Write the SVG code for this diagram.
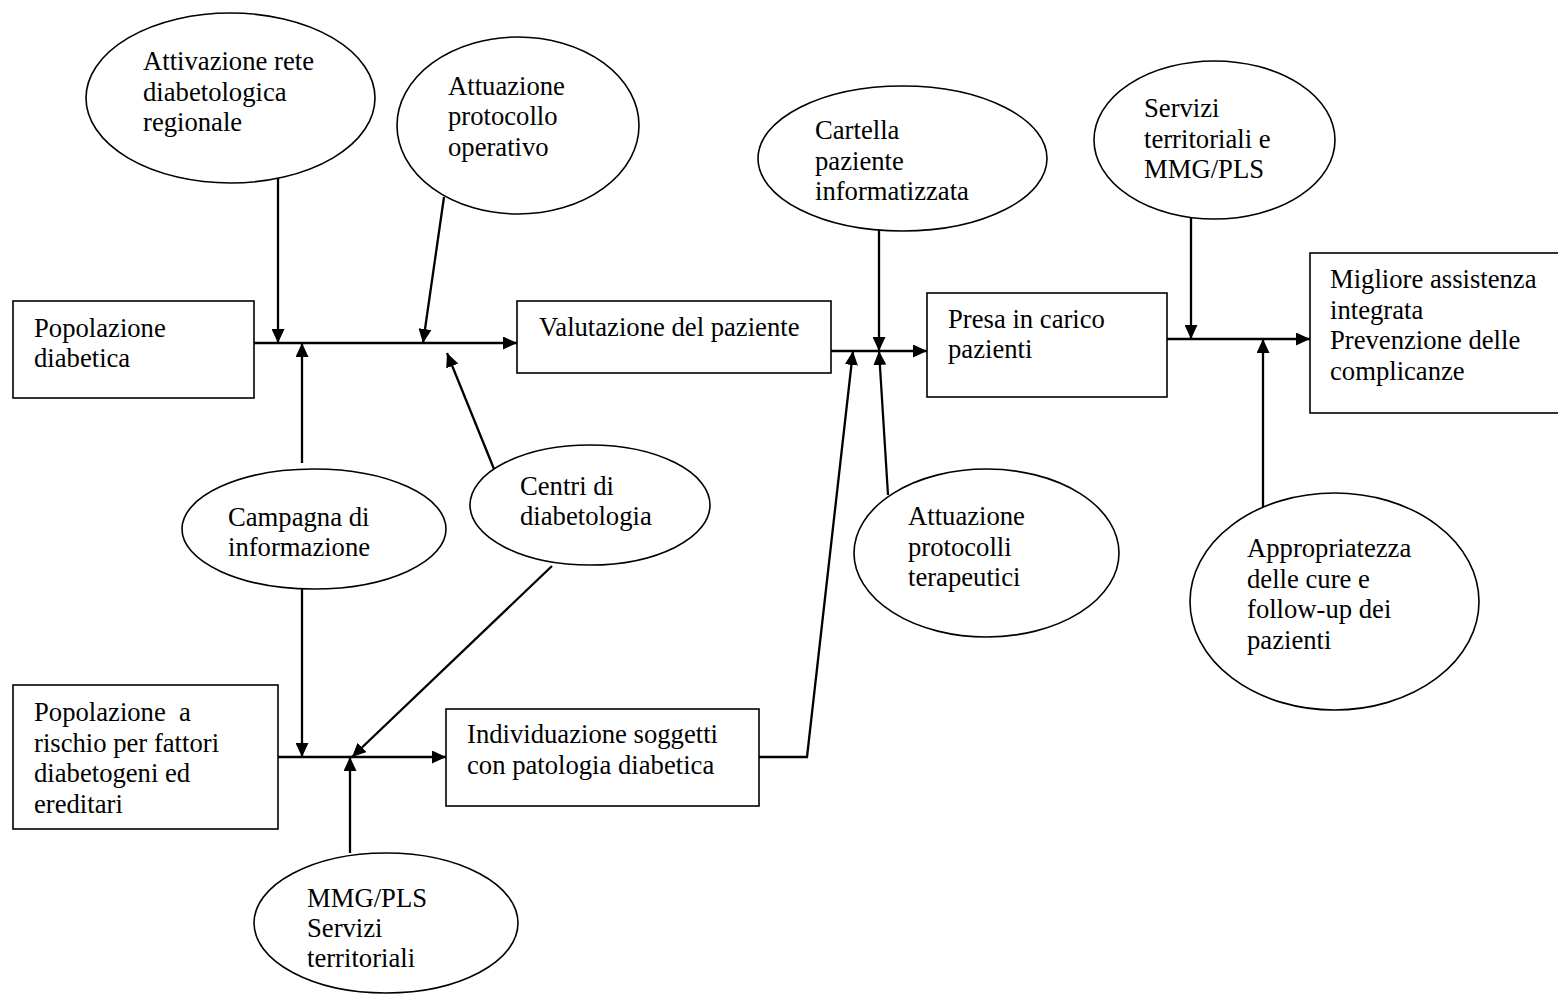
<svg xmlns="http://www.w3.org/2000/svg" width="1558" height="995" viewBox="0 0 1558 995">
<style>
.box{fill:#fff;stroke:#000;stroke-width:1.6}
.ell{fill:#fff;stroke:#000;stroke-width:1.6}
.con{fill:none;stroke:#000;stroke-width:2.3}
.arr{marker-end:url(#ah)}
text{font-family:"Liberation Serif","Times New Roman",serif;font-size:26.67px;fill:#000}
</style>
<defs>
<marker id="ah" markerUnits="userSpaceOnUse" viewBox="0 0 14 13" refX="14" refY="6.5" markerWidth="14" markerHeight="13" orient="auto">
<path d="M0,0 L14,6.5 L0,13 Z" fill="#000"/>
</marker>
</defs>
<rect width="1558" height="995" fill="#fff"/>
<g id="connectors">
<line class="con" x1="254" y1="343" x2="517" y2="343" marker-end="url(#ah)"/>
<line class="con" x1="831" y1="351" x2="927" y2="351" marker-end="url(#ah)"/>
<line class="con" x1="1167" y1="339" x2="1310" y2="339" marker-end="url(#ah)"/>
<line class="con" x1="278" y1="757" x2="446" y2="757" marker-end="url(#ah)"/>
<line class="con" x1="278" y1="178" x2="278" y2="343" marker-end="url(#ah)"/>
<line class="con" x1="444" y1="197" x2="423" y2="343" marker-end="url(#ah)"/>
<line class="con" x1="302" y1="463" x2="302" y2="343" marker-end="url(#ah)"/>
<line class="con" x1="494" y1="469" x2="447" y2="353" marker-end="url(#ah)"/>
<line class="con" x1="879" y1="230" x2="879" y2="351" marker-end="url(#ah)"/>
<polyline class="con" points="759,757 807,757 853,351" marker-end="url(#ah)"/>
<line class="con" x1="888" y1="495" x2="879" y2="351" marker-end="url(#ah)"/>
<line class="con" x1="1191" y1="218" x2="1191" y2="339" marker-end="url(#ah)"/>
<line class="con" x1="1263" y1="507" x2="1263" y2="339" marker-end="url(#ah)"/>
<line class="con" x1="302" y1="589" x2="302" y2="757" marker-end="url(#ah)"/>
<line class="con" x1="552" y1="566" x2="352" y2="757" marker-end="url(#ah)"/>
<line class="con" x1="350" y1="853" x2="350" y2="757" marker-end="url(#ah)"/>
</g>
<g id="n-attivazione">
<ellipse class="ell" cx="230.5" cy="98" rx="144.5" ry="85"/>
<text x="143" y="70">Attivazione rete</text>
<text x="143" y="100.5">diabetologica</text>
<text x="143" y="131">regionale</text>
</g>
<g id="n-attuazione-op">
<ellipse class="ell" cx="518" cy="125.5" rx="121" ry="88.5"/>
<text x="448" y="94.5">Attuazione</text>
<text x="448" y="125">protocollo</text>
<text x="448" y="155.5">operativo</text>
</g>
<g id="n-popolazione">
<rect class="box" x="13" y="301" width="241" height="97"/>
<text x="34" y="337">Popolazione</text>
<text x="34" y="367">diabetica</text>
</g>
<g id="n-valutazione">
<rect class="box" x="517" y="301" width="314" height="72"/>
<text x="539" y="336">Valutazione del paziente</text>
</g>
<g id="n-cartella">
<ellipse class="ell" cx="902.5" cy="158.5" rx="144.5" ry="72.5"/>
<text x="815" y="139">Cartella</text>
<text x="815" y="169.5">paziente</text>
<text x="815" y="200">informatizzata</text>
</g>
<g id="n-presa">
<rect class="box" x="927" y="293" width="240" height="104"/>
<text x="948" y="328">Presa in carico</text>
<text x="948" y="358">pazienti</text>
</g>
<g id="n-servizi">
<ellipse class="ell" cx="1214.5" cy="140" rx="120.5" ry="79"/>
<text x="1144" y="117">Servizi</text>
<text x="1144" y="147.5">territoriali e</text>
<text x="1144" y="178">MMG/PLS</text>
</g>
<g id="n-migliore">
<rect class="box" x="1310" y="253" width="260" height="160"/>
<text x="1330" y="288">Migliore assistenza</text>
<text x="1330" y="318.5">integrata</text>
<text x="1330" y="349">Prevenzione delle</text>
<text x="1330" y="379.5">complicanze</text>
</g>
<g id="n-campagna">
<ellipse class="ell" cx="314" cy="529" rx="132" ry="60"/>
<text x="228" y="526">Campagna di</text>
<text x="228" y="556">informazione</text>
</g>
<g id="n-centri">
<ellipse class="ell" cx="590" cy="505" rx="120" ry="60"/>
<text x="520" y="495">Centri di</text>
<text x="520" y="525">diabetologia</text>
</g>
<g id="n-attuazione-ter">
<ellipse class="ell" cx="986.5" cy="553" rx="132.5" ry="84"/>
<text x="908" y="525">Attuazione</text>
<text x="908" y="555.5">protocolli</text>
<text x="908" y="586">terapeutici</text>
</g>
<g id="n-appropriatezza">
<ellipse class="ell" cx="1334.5" cy="601.5" rx="144.5" ry="108.5"/>
<text x="1247" y="557">Appropriatezza</text>
<text x="1247" y="587.5">delle cure e</text>
<text x="1247" y="618">follow-up dei</text>
<text x="1247" y="648.5">pazienti</text>
</g>
<g id="n-rischio">
<rect class="box" x="13" y="685" width="265" height="144"/>
<text x="34" y="721" xml:space="preserve">Popolazione  a</text>
<text x="34" y="751.5">rischio per fattori</text>
<text x="34" y="782">diabetogeni ed</text>
<text x="34" y="812.5">ereditari</text>
</g>
<g id="n-individuazione">
<rect class="box" x="446" y="709" width="313" height="97"/>
<text x="467" y="743">Individuazione soggetti</text>
<text x="467" y="774">con patologia diabetica</text>
</g>
<g id="n-mmg">
<ellipse class="ell" cx="386" cy="923" rx="132" ry="70"/>
<text x="307" y="907">MMG/PLS</text>
<text x="307" y="937">Servizi</text>
<text x="307" y="967">territoriali</text>
</g>
</svg>
